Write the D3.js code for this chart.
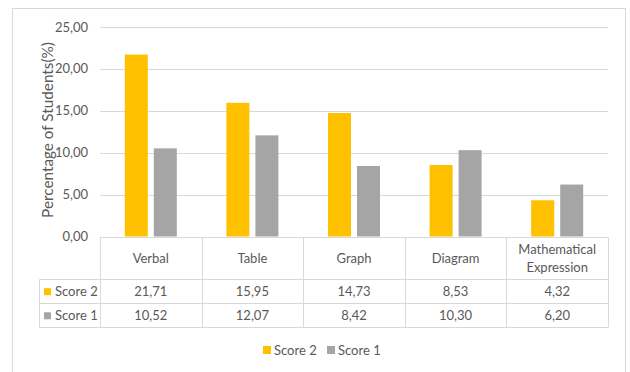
<!DOCTYPE html>
<html>
<head>
<meta charset="utf-8">
<script src="https://cdn.jsdelivr.net/npm/d3@7"></script>
<style>
  html, body { margin: 0; padding: 0; background: #fff; }
  svg { display: block; font-family: Lato, "Open Sans", sans-serif; }
  text { fill: #595959; }
</style>
</head>
<body>
<svg id="chart" width="630" height="372"></svg>
<script>
// Chart data
const categories = ["Verbal", "Table", "Graph", "Diagram", "Mathematical Expression"];
const seriesNames = ["Score 2", "Score 1"];
const score2 = [21.71, 15.95, 14.73, 8.53, 4.32];
const score1 = [10.52, 12.07, 8.42, 10.30, 6.20];
const yTicks = [0, 5, 10, 15, 20, 25];
const colors = ["#FFC000", "#A5A5A5"];

const seriesValues = [score2, score1];
const fmt = v => v.toFixed(2).replace(".", ",");

const svg = d3.select("#chart");
const W = 630, H = 372;

// outer chart frame
svg.append("rect")
  .attr("x", 12.5).attr("y", 8.5)
  .attr("width", 613).attr("height", H + 10)
  .attr("fill", "#fff").attr("stroke", "#d9d9d9").attr("stroke-width", 1);

const plot = { left: 100, right: 608, top: 27, bottom: 236.5 };

const y = d3.scaleLinear().domain([0, 25]).range([plot.bottom, plot.top]);
const x0 = d3.scaleBand().domain(categories).range([plot.left, plot.right]).paddingInner(0).paddingOuter(0);
const x1 = d3.scaleBand().domain(seriesNames).range([0, x0.bandwidth()])
  .paddingInner(0.207).paddingOuter(0.855);

// gridlines
svg.append("g")
  .selectAll("line").data(yTicks).join("line")
  .attr("x1", plot.left).attr("x2", plot.right)
  .attr("y1", d => Math.round(y(d)) + 0.5).attr("y2", d => Math.round(y(d)) + 0.5)
  .attr("stroke", "#d9d9d9").attr("stroke-width", 1);

// y tick labels
svg.append("g")
  .selectAll("text").data(yTicks).join("text")
  .attr("x", 88).attr("y", d => y(d))
  .attr("dy", "0.35em")
  .attr("text-anchor", "end")
  .attr("font-size", 13)
  .text(d => fmt(d));

// y axis title
svg.append("text")
  .attr("transform", "translate(48,130) rotate(-90)")
  .attr("text-anchor", "middle")
  .attr("dy", "0.35em")
  .attr("font-size", 15.3)
  .text("Percentage of Students(%)");

// bars
const groups = svg.append("g")
  .selectAll("g").data(categories).join("g")
  .attr("transform", d => `translate(${x0(d)},0)`);

groups.selectAll("rect")
  .data((c, i) => seriesNames.map((s, j) => ({ s, v: seriesValues[j][i], j })))
  .join("rect")
  .attr("x", d => x1(d.s))
  .attr("width", x1.bandwidth())
  .attr("y", d => y(d.v))
  .attr("height", d => y(0) - y(d.v))
  .attr("fill", d => colors[d.j]);

// data table
const rowTop = plot.bottom, headerBottom = 279.5, row1Bottom = 303.5, row2Bottom = 327.5;
const legendLeft = 39.5;
const tg = svg.append("g").attr("stroke", "#d9d9d9").attr("stroke-width", 1);

// horizontal lines
tg.append("line").attr("x1", plot.left).attr("x2", plot.right).attr("y1", Math.round(rowTop) + 0.5).attr("y2", Math.round(rowTop) + 0.5);
[headerBottom, row1Bottom, row2Bottom].forEach(yy => {
  tg.append("line").attr("x1", legendLeft).attr("x2", plot.right).attr("y1", yy).attr("y2", yy);
});
// vertical lines at category boundaries
const bounds = categories.map(c => x0(c)).concat([plot.right]);
bounds.forEach(xx => {
  const xr = Math.round(xx) + 0.5;
  tg.append("line").attr("x1", xr).attr("x2", xr).attr("y1", Math.round(rowTop)).attr("y2", row2Bottom);
});
tg.append("line").attr("x1", legendLeft).attr("x2", legendLeft).attr("y1", headerBottom).attr("y2", row2Bottom);

// header labels
const header = svg.append("g").attr("font-size", 13).attr("text-anchor", "middle");
categories.forEach(c => {
  const cx = x0(c) + x0.bandwidth() / 2;
  const words = c.split(" ");
  if (words.length === 1) {
    header.append("text").attr("x", cx).attr("y", 258).attr("dy", "0.35em").text(c);
  } else {
    header.append("text").attr("x", cx).attr("y", 249).attr("dy", "0.35em").text(words[0]);
    header.append("text").attr("x", cx).attr("y", 267.5).attr("dy", "0.35em").text(words.slice(1).join(" "));
  }
});

// value rows
const rowCenters = [291.7, 315.8];
seriesNames.forEach((s, j) => {
  const g = svg.append("g").attr("font-size", 13);
  g.append("rect").attr("x", 44).attr("y", rowCenters[j] - 3.5).attr("width", 7).attr("height", 7).attr("fill", colors[j]);
  g.append("text").attr("x", 55).attr("y", rowCenters[j]).attr("dy", "0.35em").text(s);
  categories.forEach((c, i) => {
    g.append("text")
      .attr("x", x0(c) + x0.bandwidth() / 2)
      .attr("y", rowCenters[j]).attr("dy", "0.35em")
      .attr("text-anchor", "middle")
      .text(fmt(seriesValues[j][i]));
  });
});

// legend
const legendItems = [{ s: "Score 2", x: 263 }, { s: "Score 1", x: 327 }];
const lg = svg.append("g").attr("font-size", 13);
legendItems.forEach((d, j) => {
  lg.append("rect").attr("x", d.x).attr("y", 346).attr("width", 8).attr("height", 8).attr("fill", colors[j]);
  lg.append("text").attr("x", d.x + 11).attr("y", 350).attr("dy", "0.35em").text(d.s);
});
</script>
</body>
</html>
